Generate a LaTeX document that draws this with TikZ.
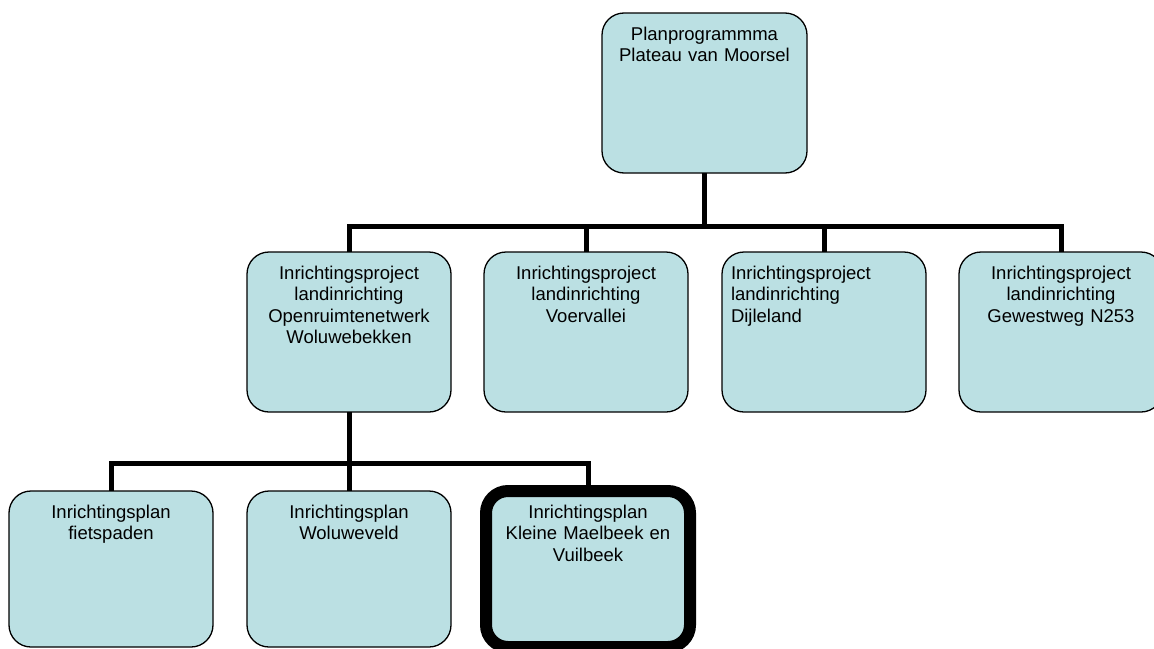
\documentclass[tikz,border=0pt]{standalone}
\usepackage{fontspec}
\usepackage{xcolor}
\usepackage{tikz}
\usetikzlibrary{positioning}
\newfontfamily\boxfont{Liberation Sans}
\definecolor{boxfill}{RGB}{187,224,227}

\begin{document}
\begin{tikzpicture}[x=1pt, y=-1pt, node distance=33pt]
    \tikzstyle{plan} = [rectangle, draw, fill=boxfill, line width=1.3pt, rounded corners=22pt, outer sep=0pt, inner ysep=0pt, inner xsep=5pt, text width=194pt, minimum width=204pt, text height=27pt, text depth=133pt, align=center, font={\boxfont\fontsize{18.5}{21.6}\selectfont}]
    \tikzstyle{low} = [text depth=129pt]
    \tikzstyle{current} = [line width=12pt]
    \tikzstyle{link} = [line width=5pt]
    \useasboundingbox (0,0) rectangle (1154,648);

    \node [plan, anchor=north west, text width=195pt] (prog) at (602,13) {Planprogrammma\\Plateau van Moorsel};
    \node [plan, anchor=north west] (woluwe) at (247,252) {Inrichtingsproject\\landinrichting\\Openruimtenetwerk\\Woluwebekken};
    \node [plan, right=of woluwe] (voer) {Inrichtingsproject\\landinrichting\\Voervallei};
    \node [plan, right=34pt of voer, align=left, inner xsep=9pt, text width=186pt] (dijle) {Inrichtingsproject\\landinrichting\\Dijleland};
    \node [plan, right=of dijle, text width=183pt] (n253) {Inrichtingsproject\\landinrichting\\Gewestweg N253};
    \node [plan, low, below=79pt of woluwe] (veld) {Inrichtingsplan\\Woluweveld};
    \node [plan, low, left=34pt of veld] (fiets) {Inrichtingsplan\\fietspaden};
    \node [plan, low, current, right=35pt of veld] (maelbeek) {Inrichtingsplan\\Kleine Maelbeek en\\Vuilbeek};

    \draw [link] (prog.south) -- ++(0,53) -| (woluwe.north);
    \draw [link] (prog.south) -- ++(0,53) -| (voer.north);
    \draw [link] (prog.south) -- ++(0,53) -| (dijle.north);
    \draw [link] (prog.south) -- ++(0,53) -| (n253.north);
    \draw [link] (woluwe.south) -- ++(0,51) -| (fiets.north);
    \draw [link] (woluwe.south) -- ++(0,51) -| (veld.north);
    \draw [link] (woluwe.south) -- ++(0,51) -| (maelbeek.north);

\end{tikzpicture}
\end{document}
